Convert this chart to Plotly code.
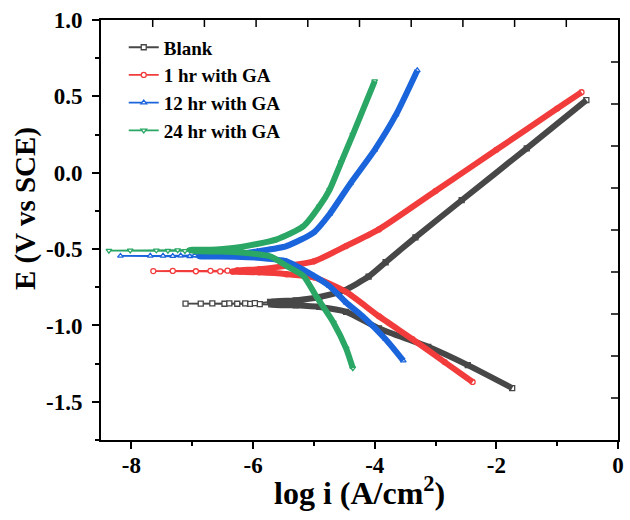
import plotly.graph_objects as go

# ---------------- data ----------------
x_tick_vals = [-8, -6, -4, -2, 0]
x_tick_text = ['-8', '-6', '-4', '-2', '0']
y_tick_vals = [1.0, 0.5, 0.0, -0.5, -1.0, -1.5]
y_tick_text = ['1.0', '0.5', '0.0', '-0.5', '-1.0', '-1.5']

series_names = ['Blank', '1 hr with GA', '12 hr with GA', '24 hr with GA']

# sweep order: cathodic end -> Ecorr -> anodic end  (log i in A/cm2, E in V vs SCE)
blank_logi = [-1.74, -2.47, -3.12, -3.93, -4.47, -4.91, -5.30, -5.70, -5.89, -6.05, -6.26, -6.47, -6.86,
              -7.11, -6.67, -6.39, -6.13, -5.97, -5.72, -5.30, -4.91, -4.50, -4.10, -3.82, -3.33, -2.57, -1.50, -0.52]
blank_E = [-1.41, -1.26, -1.14, -1.02, -0.911, -0.879, -0.868, -0.862, -0.860, -0.859, -0.858, -0.858, -0.857,
           -0.857, -0.856, -0.856, -0.855, -0.854, -0.846, -0.836, -0.814, -0.77, -0.68, -0.586, -0.423, -0.18, 0.16, 0.475]

red_logi = [-2.39, -2.85, -3.38, -3.93, -4.47, -5.00, -5.45, -5.90, -6.21, -6.34, -6.54, -6.94, -7.64,
            -7.32, -6.70, -6.42, -6.26, -5.90, -5.45, -5.00, -4.47, -3.93, -3.00, -2.00, -1.00, -0.60]
red_E = [-1.37, -1.24, -1.09, -0.94, -0.78, -0.685, -0.664, -0.652, -0.648, -0.647, -0.646, -0.645, -0.644,
         -0.643, -0.642, -0.641, -0.640, -0.632, -0.610, -0.580, -0.480, -0.371, -0.12, 0.15, 0.42, 0.527]

blue_logi = [-3.53, -3.82, -4.20, -4.47, -4.75, -5.00, -5.45, -5.93, -6.30, -6.88, -7.04, -7.32, -8.18,
             -7.69, -7.48, -7.19, -6.96, -6.50, -6.26, -5.93, -5.45, -5.00, -4.74, -4.40, -4.00, -3.65, -3.30]
blue_E = [-1.23, -1.09, -0.94, -0.85, -0.74, -0.675, -0.58, -0.556, -0.550, -0.548, -0.547, -0.546, -0.545,
          -0.544, -0.544, -0.543, -0.542, -0.538, -0.534, -0.515, -0.48, -0.39, -0.27, -0.07, 0.15, 0.38, 0.67]

green_logi = [-4.36, -4.47, -4.68, -4.96, -5.17, -5.45, -5.72, -6.20, -6.60, -6.94, -7.12, -7.40, -8.37,
              -8.02, -7.59, -7.24, -7.04, -6.99, -6.60, -6.26, -5.61, -5.17, -4.91, -4.74, -4.55, -4.36, -4.00]
green_E = [-1.28, -1.15, -0.98, -0.81, -0.677, -0.61, -0.547, -0.522, -0.516, -0.513, -0.512, -0.511, -0.510,
           -0.509, -0.508, -0.507, -0.506, -0.505, -0.502, -0.490, -0.436, -0.350, -0.220, -0.11, 0.07, 0.25, 0.60]

# axis extents
x_range = [-8.5, 0]
y_range = [-1.75, 1.0]

# ---------------- style ----------------
colors = ['#474747', '#f23b3b', '#1a64dc', '#2aa764']
symbols = ['square', 'circle', 'triangle-up', 'triangle-down']
FONT = 'Liberation Serif'
dense_offset = 1.25   # points this far (in decades) above the minimum current merge into a thick band
mirror_divisions = 10  # the top / right frame carries 10 equal inward tick divisions
mirror_ticklen = 7

fig = go.Figure()
all_series = [(blank_logi, blank_E), (red_logi, red_E), (blue_logi, blue_E), (green_logi, green_E)]
for (lx, ey), name, c, s in zip(all_series, series_names, colors, symbols):
    fig.add_trace(go.Scatter(
        x=lx, y=ey, name=name, mode='lines+markers',
        line=dict(color=c, width=1.8),
        marker=dict(symbol=s, size=5, color='white', line=dict(color=c, width=1.3)),
    ))
for (lx, ey), c in zip(all_series, colors):
    thr = min(lx) + dense_offset
    bx = [a for a, b in zip(lx, ey) if a > thr]
    by = [b for a, b in zip(lx, ey) if a > thr]
    fig.add_trace(go.Scatter(
        x=bx, y=by, mode='lines', showlegend=False, hoverinfo='skip',
        line=dict(color=c, width=6, shape='spline', smoothing=0.6),
    ))

# inward tick marks on the top and right frame (decoration of the frame, in paper units)
frame_ticks = []
for k in range(1, mirror_divisions):
    f = k / mirror_divisions
    frame_ticks.append(dict(type='line', xref='paper', yref='paper', ysizemode='pixel', yanchor=1,
                            x0=f, x1=f, y0=0, y1=-mirror_ticklen, line=dict(color='black', width=1.5)))
    frame_ticks.append(dict(type='line', xref='paper', yref='paper', xsizemode='pixel', xanchor=1,
                            y0=f, y1=f, x0=0, x1=-mirror_ticklen, line=dict(color='black', width=1.5)))

axis_common = dict(showgrid=False, zeroline=False, showline=True, linecolor='black', linewidth=2,
                   mirror=True, ticks='outside', ticklen=7, tickwidth=1.5, tickcolor='black',
                   tickfont=dict(family=FONT, size=23, color='black', weight='bold'))

fig.update_layout(
    width=630, height=520,
    margin=dict(l=101, r=6, t=20, b=80),
    paper_bgcolor='white', plot_bgcolor='white',
    font=dict(family=FONT, color='black'),
    xaxis=dict(range=x_range, tickmode='array', tickvals=x_tick_vals, ticktext=x_tick_text,
               minor=dict(ticks='outside', ticklen=4, tickwidth=1.5, tickcolor='black', dtick=1, tick0=0),
               ticklabelstandoff=-4,
               **axis_common),
    yaxis=dict(range=y_range, tickmode='array', tickvals=y_tick_vals, ticktext=y_tick_text,
               minor=dict(ticks='outside', ticklen=4, tickwidth=1.5, tickcolor='black', dtick=0.25, tick0=0),
               ticklabelstandoff=5,
               **axis_common),
    shapes=frame_ticks,
    legend=dict(x=0.044, y=0.98, xanchor='left', yanchor='top', bgcolor='rgba(0,0,0,0)',
                font=dict(family=FONT, size=19, color='black', weight='bold'), itemwidth=30,
                tracegroupgap=0),
    annotations=[
        dict(text='E (V vs SCE)', textangle=-90, xref='paper', yref='paper',
             x=-0.145, y=0.55, xanchor='center', yanchor='middle', showarrow=False,
             font=dict(family=FONT, size=29, color='black', weight='bold')),
        dict(text='log i (A/cm<sup>2</sup>)', xref='paper', yref='paper',
             x=0.5, y=-0.122, xanchor='center', yanchor='middle', showarrow=False,
             font=dict(family=FONT, size=32, color='black', weight='bold')),
    ],
)

fig.write_html('out.html', config={'displayModeBar': False},
               post_script="document.body.style.margin='0';")
